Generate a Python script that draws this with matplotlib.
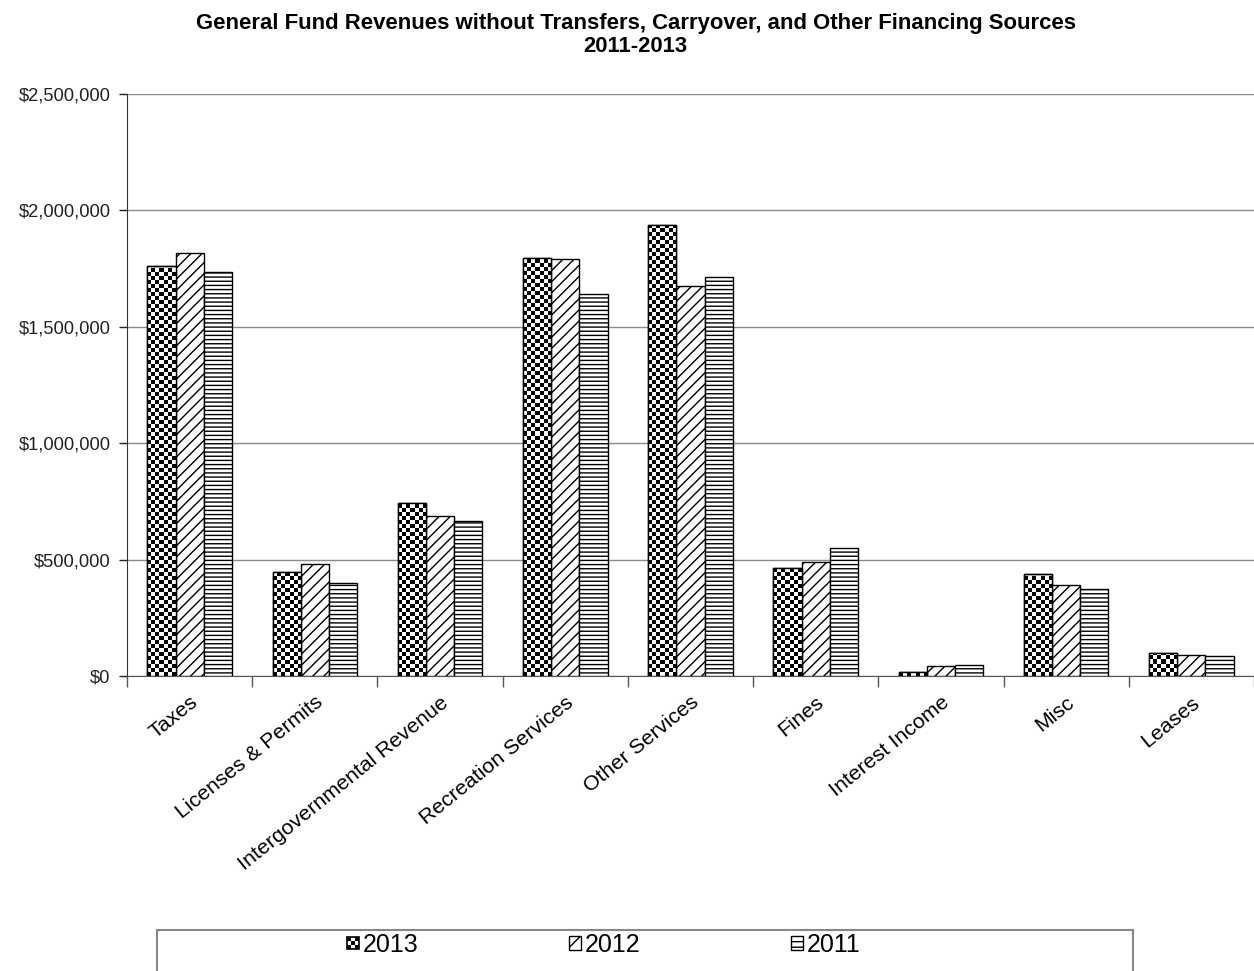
import numpy as np
import matplotlib
matplotlib.use('Agg')
import matplotlib.pyplot as plt
from matplotlib.patches import Rectangle, Patch
from matplotlib.legend_handler import HandlerBase
from matplotlib.ticker import FuncFormatter, FixedLocator

plt.rcParams['font.family'] = ['Liberation Sans', 'DejaVu Sans']
plt.rcParams['hatch.linewidth'] = 1.0

categories = ['Taxes', 'Licenses & Permits', 'Intergovernmental Revenue',
              'Recreation Services', 'Other Services', 'Fines',
              'Interest Income', 'Misc', 'Leases']
years = ['2013', '2012', '2011']
rev_2013 = [1761000, 447000, 743000, 1796000, 1937000, 464000, 17000, 438000, 99000]
rev_2012 = [1817000, 481000, 687000, 1791000, 1675000, 490000, 43000, 391000, 90000]
rev_2011 = [1735000, 400000, 666000, 1641000, 1714000, 550000, 47000, 374000, 86000]
y_ticks = [0, 500000, 1000000, 1500000, 2000000, 2500000]


class CheckerHandler(HandlerBase):
    """Small 3x3 checkerboard square for the legend."""
    def create_artists(self, legend, orig_handle, xdescent, ydescent,
                       width, height, fontsize, trans):
        arts = []
        n = 3
        s = min(width, height)
        x0, y0 = -xdescent, -ydescent + (height - s) / 2
        c = s / n
        for i in range(n):
            for j in range(n):
                fc = 'black' if (i + j) % 2 == 0 else 'white'
                arts.append(Rectangle((x0 + i * c, y0 + j * c), c, c,
                                      facecolor=fc, edgecolor='none', transform=trans))
        arts.append(Rectangle((x0, y0), s, s, facecolor='none', edgecolor='black',
                              linewidth=1.2, transform=trans))
        return arts


W, H, DPI = 12.54, 9.71, 100
fig = plt.figure(figsize=(W, H), dpi=DPI)
ax = fig.add_axes([0.1013, 0.3038, 0.8987, 0.5994])

x = np.arange(len(categories))
bw = 0.225
ax.set_xlim(-0.5, len(categories) - 0.5)
ax.set_ylim(0, 2500000)

# gridlines behind bars
ax.set_yticks(y_ticks)
ax.yaxis.grid(True, color='#8a8a8a', linewidth=1.0)
ax.set_axisbelow(True)

bars13 = ax.bar(x - bw, rev_2013, bw, facecolor='white', edgecolor='black',
                linewidth=1.0, zorder=3)
ax.bar(x, rev_2012, bw, facecolor='white', edgecolor='black',
       linewidth=1.0, hatch='///', zorder=3)
ax.bar(x + bw, rev_2011, bw, facecolor='white', edgecolor='black',
       linewidth=1.0, hatch='----', zorder=3)

# checkerboard fill for 2013 bars, clipped to each bar
px_per_x = ax.bbox.width / (len(categories))
px_per_y = ax.bbox.height / 2500000
sq = 4.0
for b in bars13:
    x0, w, h = b.get_x(), b.get_width(), b.get_height()
    nx = max(1, int(round(w * px_per_x / sq)))
    ny = max(1, int(round(h * px_per_y / sq)))
    board = (np.indices((ny, nx)).sum(axis=0) % 2).astype(float)
    im = ax.imshow(board, cmap='gray', extent=(x0, x0 + w, 0, ny * sq / px_per_y),
                   origin='lower', interpolation='nearest', aspect='auto',
                   vmin=0, vmax=1, zorder=3.5)
    im.set_clip_path(b)
    ax.add_patch(Rectangle((x0, 0), w, h, facecolor='none', edgecolor='black',
                           linewidth=1.0, zorder=4))
ax.set_xlim(-0.5, len(categories) - 0.5)
ax.set_ylim(0, 2500000)

ax.yaxis.set_major_formatter(FuncFormatter(lambda v, p: f'${v:,.0f}'))
ax.tick_params(axis='y', labelsize=13.2, colors='#222222', length=6, width=1,
               pad=6, direction='out')

ax.xaxis.set_major_locator(FixedLocator(np.arange(-0.5, len(categories), 1.0)))
ax.xaxis.set_major_formatter(FuncFormatter(lambda v, p: ''))
ax.xaxis.set_minor_locator(FixedLocator(x))
ax.set_xticklabels(categories, minor=True, rotation=39, ha='right',
                   rotation_mode='anchor', fontsize=15.4)
ax.tick_params(axis='x', which='major', length=8, width=1, color='#555555')
ax.tick_params(axis='x', which='minor', length=0, pad=12)

for s in ['top', 'right']:
    ax.spines[s].set_visible(False)
ax.spines['left'].set_color('#333333')
ax.spines['bottom'].set_color('#555555')

fig.text(0.507, 0.987, 'General Fund Revenues without Transfers, Carryover, and Other Financing Sources\n2011-2013',
         ha='center', va='top', fontsize=15.9, fontweight='bold', linespacing=1.12)

# legend box at the bottom
fig.add_artist(Rectangle((157 / 1254, -0.01), (1133 - 157) / 1254, (971 - 930) / 971 + 0.01,
                         transform=fig.transFigure, facecolor='white',
                         edgecolor='#888888', linewidth=1.5))
handles = [Patch(facecolor='white', edgecolor='black'),
           Patch(facecolor='white', edgecolor='black', hatch='//'),
           Patch(facecolor='white', edgecolor='black', hatch='---')]
fig.legend(handles, years, loc='center', bbox_to_anchor=(0.4815, 0.027), ncol=3,
           frameon=False, fontsize=18, handlelength=0.5, handleheight=0.5,
           handletextpad=0.15, columnspacing=6.0,
           handler_map={handles[0]: CheckerHandler()})

fig.savefig('out.png', dpi=DPI)
